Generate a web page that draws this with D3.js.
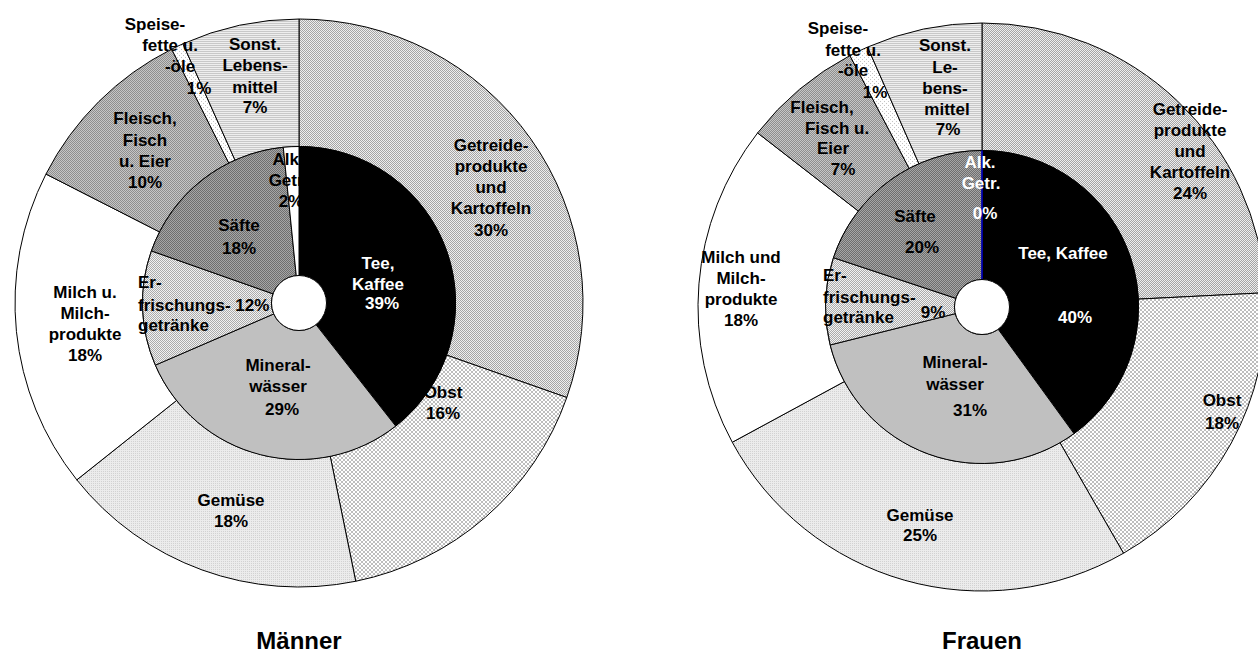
<!DOCTYPE html>
<html>
<head>
<meta charset="utf-8">
<script src="https://cdn.jsdelivr.net/npm/d3@7.9.0/dist/d3.min.js"></script>
<style>
  body { margin: 0; background: #fff; }
  text { font-family: Arial, "Liberation Sans", sans-serif; font-weight: bold; }
</style>
</head>
<body>
<svg id="chart" width="1258" height="661"></svg>
<script>
// categories
const outerCats = ['Getreideprodukte und Kartoffeln', 'Obst', 'Gemüse', 'Milch und Milchprodukte',
                   'Fleisch, Fisch und Eier', 'Speisefette und -öle', 'Sonstige Lebensmittel'];
const innerCats = ['Tee, Kaffee', 'Mineralwässer', 'Erfrischungsgetränke', 'Säfte', 'Alkoholische Getränke'];

// shares in percent (labels show them rounded)
const maennerOuter = [30.4, 16.4, 17.5, 18.2, 10.1, 0.7, 6.7];
const maennerInner = [39.4, 29.1, 11.9, 18.0, 1.6];
const frauenOuter = [24.2, 17.5, 25.4, 18.4, 6.8, 1.1, 6.6];
const frauenInner = [40.0, 31.1, 9.0, 19.9, 0];

// fills (pattern ids or colours), same order as categories
const outerFills = ['url(#pGetreide)', 'url(#pObst)', 'url(#pGemuese)', '#ffffff',
                    'url(#pFleisch)', 'url(#pSpeise)', 'url(#pSonst)'];
const innerFills = ['#000000', '#c0c0c0', 'url(#pErfr)', 'url(#pSaefte)', '#ffffff'];

// label layout: [x, y, text, anchor]; '%p' is replaced by the rounded value
const maennerOuterLabels = [
  [[491, 145, 'Getreide-'], [491, 166, 'produkte'], [491, 187, 'und'], [491, 208, 'Kartoffeln'], [491, 230, '%p']],
  [[443, 392, 'Obst'], [443, 413, '%p']],
  [[231, 500, 'Gemüse'], [231, 521, '%p']],
  [[85, 292, 'Milch u.'], [85, 313, 'Milch-'], [85, 334, 'produkte'], [85, 355, '%p']],
  [[145, 118, 'Fleisch,'], [145, 140, 'Fisch'], [145, 161, 'u. Eier'], [145, 182, '%p']],
  [[155, 24, 'Speise-'], [170, 45, 'fette u.'], [180, 66, '-öle'], [199, 88, '%p']],
  [[255, 44, 'Sonst.'], [255, 65, 'Lebens-'], [255, 87, 'mittel'], [255, 107, '%p']]
];
const maennerInnerLabels = [
  [[378, 263, 'Tee,'], [378, 284, 'Kaffee'], [382, 303, '%p']],
  [[278, 365, 'Mineral-'], [278, 386, 'wässer'], [282, 409, '%p']],
  [[138, 282, 'Er-', 'start'], [138, 305, 'frischungs- %p', 'start'], [138, 325, 'getränke', 'start']],
  [[239, 225, 'Säfte'], [239, 248, '%p']],
  [[288, 159, 'Alk.'], [288, 180, 'Getr.'], [291, 201, '%p']]
];
const frauenOuterLabels = [
  [[1190, 109, 'Getreide-'], [1190, 130, 'produkte'], [1190, 151, 'und'], [1190, 172, 'Kartoffeln'], [1190, 193, '%p']],
  [[1222, 400, 'Obst'], [1222, 423, '%p']],
  [[920, 515, 'Gemüse'], [920, 535, '%p']],
  [[741, 257, 'Milch und'], [741, 278, 'Milch-'], [741, 299, 'produkte'], [741, 320, '%p']],
  [[822, 107, 'Fleisch,'], [837, 128, 'Fisch u.'], [833, 148, 'Eier'], [843, 169, '%p']],
  [[838, 28, 'Speise-'], [853, 50, 'fette u.'], [853, 70, '-öle'], [875, 92, '%p']],
  [[945, 45, 'Sonst.'], [945, 67, 'Le-'], [945, 88, 'bens-'], [947, 109, 'mittel'], [948, 129, '%p']]
];
const frauenInnerLabels = [
  [[1063, 253, 'Tee, Kaffee'], [1075, 317, '%p']],
  [[955, 362, 'Mineral-'], [955, 384, 'wässer'], [970, 410, '%p']],
  [[823, 275, 'Er-', 'start'], [823, 297, 'frischungs-', 'start'], [823, 317, 'getränke', 'start'], [933, 312, '%p']],
  [[915, 216, 'Säfte'], [922, 247, '%p']],
  [[980, 162, 'Alk.'], [981, 183, 'Getr.'], [985, 213, '%p']]
];

const charts = [
  { title: 'Männer', cx: 299, cy: 303, outer: maennerOuter, inner: maennerInner,
    outerLabels: maennerOuterLabels, innerLabels: maennerInnerLabels,
    innerText: ['#fff', '#000', '#000', '#000', '#000'], alkStroke: '#000' },
  { title: 'Frauen', cx: 982, cy: 307, outer: frauenOuter, inner: frauenInner,
    outerLabels: frauenOuterLabels, innerLabels: frauenInnerLabels,
    innerText: ['#fff', '#000', '#000', '#000', '#fff'], alkStroke: '#0000cc' }
];

const rHole = 27.5, rMid = 156.5, rOuter = 284;

const svg = d3.select('#chart');
const defs = svg.append('defs');

// little bitmap-like patterns: [id, size, background, [[x, y, w, h, colour]...]]
const patterns = [
  ['pGetreide', 2, '#eeeeee', [[0, 0, 1, 1, '#a4a4a4'], [1, 1, 1, 1, '#a4a4a4']]],
  ['pObst', 4, '#ffffff', [[0, 0, 2, 2, '#bdbdbd'], [2, 2, 2, 2, '#bdbdbd']]],
  ['pGemuese', 2, '#ececec', [[0, 0, 1, 1, '#d2d2d2']]],
  ['pFleisch', 2, '#c6c6c6', [[0, 0, 1, 1, '#8e8e8e'], [1, 1, 1, 1, '#8e8e8e']]],
  ['pSpeise', 4, '#ffffff', [[0, 0, 1, 1, '#c4c4c4'], [2, 2, 1, 1, '#c4c4c4']]],
  ['pSonst', 2, '#eeeeee', [[0, 0, 2, 1, '#c8c8c8']]],
  ['pErfr', 2, '#f2f2f2', [[0, 0, 1, 1, '#ababab'], [1, 1, 1, 1, '#ababab']]],
  ['pSaefte', 2, '#a6a6a6', [[0, 0, 1, 1, '#6e6e6e'], [1, 1, 1, 1, '#6e6e6e']]]
];
patterns.forEach(([id, size, bg, cells]) => {
  const p = defs.append('pattern')
    .attr('id', id)
    .attr('patternUnits', 'userSpaceOnUse')
    .attr('width', size).attr('height', size);
  p.append('rect').attr('width', size).attr('height', size).attr('fill', bg);
  cells.forEach(([x, y, w, h, c]) => {
    p.append('rect').attr('x', x).attr('y', y).attr('width', w).attr('height', h)
      .attr('fill', c).attr('shape-rendering', 'crispEdges');
  });
});

const pie = d3.pie().sort(null).value(d => d);
const outerArc = d3.arc().innerRadius(rMid).outerRadius(rOuter);
const innerArc = d3.arc().innerRadius(rHole).outerRadius(rMid);

function drawLabels(g, labels, values, colours) {
  labels.forEach((lines, i) => {
    lines.forEach(([x, y, txt, anchor]) => {
      g.append('text')
        .attr('x', x).attr('y', y).attr('dy', '0.35em')
        .attr('text-anchor', anchor || 'middle')
        .attr('font-size', 17)
        .attr('fill', colours ? colours[i] : '#000')
        .text(txt.replace('%p', Math.round(values[i]) + '%'));
    });
  });
}

charts.forEach(c => {
  const g = svg.append('g').attr('transform', `translate(${c.cx},${c.cy})`);

  g.selectAll('path.outer')
    .data(pie(c.outer))
    .join('path')
    .attr('class', 'outer')
    .attr('d', outerArc)
    .attr('fill', (d, i) => outerFills[i])
    .attr('stroke', '#000')
    .attr('stroke-width', 1);

  g.selectAll('path.inner')
    .data(pie(c.inner))
    .join('path')
    .attr('class', 'inner')
    .attr('d', innerArc)
    .attr('fill', (d, i) => innerFills[i])
    .attr('stroke', (d, i) => i === innerCats.length - 1 ? c.alkStroke : '#000')
    .attr('stroke-width', 1);

  g.append('circle')
    .attr('r', rHole)
    .attr('fill', '#fff')
    .attr('stroke', '#000');

  const lg = svg.append('g');
  drawLabels(lg, c.outerLabels, c.outer, null);
  drawLabels(lg, c.innerLabels, c.inner, c.innerText);

  svg.append('text')
    .attr('x', c.cx).attr('y', 641).attr('dy', '0.35em')
    .attr('text-anchor', 'middle')
    .attr('font-size', 24)
    .text(c.title);
});
</script>
</body>
</html>
